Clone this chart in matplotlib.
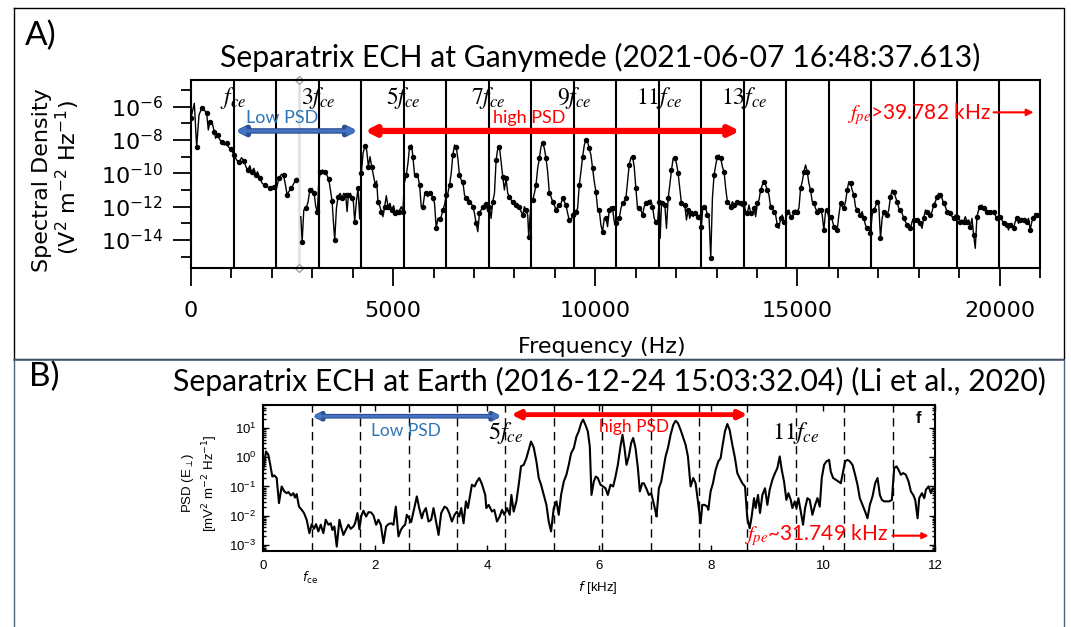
import numpy as np
import matplotlib.pyplot as plt
from matplotlib.lines import Line2D
from matplotlib.ticker import FixedLocator, LogLocator, NullFormatter

# ---- Ganymede spectrum (top panel), Hz and log10 of PSD
gany_freq = [
    0, 82, 140, 198, 263, 329, 387, 428, 469, 527, 576, 609, 658, 716, 774, 823, 881, 922, 979, 1021,
    1070, 1128, 1185, 1251, 1309, 1358, 1399, 1457, 1498, 1555, 1605, 1646, 1704, 1761, 1827, 1885,
    1951, 2008, 2058, 2115, 2173, 2239, 2288, 2337, 2378, 2428, 2485, 2543, 2592, 2634, 2675, 2716,
    2749, 2790, 2848, 2897, 2938, 2996, 3045, 3086, 3127, 3160, 3201, 3251, 3308, 3358, 3407, 3448,
    3490, 3522, 3555, 3597, 3638, 3687, 3736, 3778, 3827, 3860, 3893, 3942, 3983, 4016, 4049, 4090,
    4131, 4173, 4214, 4255, 4304, 4345, 4387, 4428, 4469, 4510, 4559, 4592, 4625, 4675, 4708, 4749,
    4790, 4831, 4872, 4922, 4963, 5012, 5053, 5094, 5144,
    5201, 5242, 5275, 5325, 5366, 5407, 5456, 5489, 5530, 5572,
    5613, 5654, 5695, 5736, 5777, 5818, 5860, 5901, 5942, 5983,
    6024, 6065, 6106, 6148, 6189, 6230, 6271, 6312, 6353, 6395,
    6436, 6477, 6518, 6559, 6600, 6641, 6683, 6724, 6765, 6806,
    6847, 6888, 6929, 6971, 7012, 7053, 7094, 7135, 7176, 7218,
    7259, 7300, 7341, 7382, 7423, 7464, 7506, 7547, 7588, 7629,
    7670, 7711, 7752, 7794, 7835, 7876, 7917, 7958, 7999, 8041,
    8082, 8123, 8164, 8205, 8246, 8287, 8329, 8353, 8411, 8452,
    8493, 8534, 8575, 8617, 8658, 8699, 8740, 8781, 8822, 8864,
    8905, 8946, 8987, 9028, 9069, 9110, 9152, 9193, 9234, 9275,
    9316, 9357, 9398, 9440, 9481, 9522, 9563, 9604, 9645, 9687,
    9728, 9769, 9810, 9851, 9892, 9933, 9975, 10016, 10057, 10098,
    10139, 10180, 10221, 10263, 10304, 10345, 10386, 10427, 10468,
    10510, 10551, 10592, 10634, 10675, 10716, 10757, 10798, 10839, 10881,
    10922, 10963, 11004, 11045, 11086, 11127, 11169, 11210, 11251, 11292,
    11333, 11374, 11415, 11457, 11498, 11539, 11580, 11605, 11638, 11679,
    11720, 11761, 11802, 11843, 11885, 11926, 11967, 12008, 12049, 12090,
    12131, 12173, 12214, 12255, 12296, 12337, 12378, 12420, 12461, 12502,
    12543, 12584, 12625, 12658, 12691, 12732, 12773, 12815, 12856, 12897,
    12938, 12979, 13020, 13061, 13103, 13144, 13185, 13226, 13267, 13308,
    13349, 13391, 13432, 13473, 13514, 13555, 13596, 13638, 13679, 13720,
    13761, 13802, 13843, 13885, 13926, 13967, 14008, 14049, 14090, 14131,
    14173, 14214, 14255, 14296, 14337, 14378, 14419, 14461, 14502, 14543,
    14584, 14625, 14666, 14707, 14749, 14790, 14831, 14872, 14913, 14954,
    14995, 15037, 15078, 15119, 15160, 15201, 15242, 15284, 15325, 15366,
    15407, 15448, 15489, 15530, 15572, 15613, 15654, 15695, 15736,
    15778, 15819, 15860, 15901, 15943, 15984, 16025, 16066, 16107, 16148,
    16190, 16231, 16272, 16313, 16354, 16395, 16436, 16478, 16519, 16560,
    16601, 16642, 16683, 16724, 16766, 16807, 16848, 16889, 16930, 16971,
    17013, 17054, 17095, 17136, 17177, 17218, 17259, 17301, 17342, 17383,
    17424, 17465, 17506, 17547, 17589, 17630, 17671, 17712, 17753, 17794,
    17836, 17877, 17918, 17959, 18000, 18041, 18082, 18124, 18165, 18206,
    18247, 18288, 18329, 18370, 18412, 18453, 18494, 18535, 18576, 18617,
    18659, 18700, 18741, 18782, 18823, 18864, 18905, 18947, 18988, 19029,
    19070, 19111, 19152, 19194, 19235, 19276, 19317, 19358, 19399, 19440,
    19482, 19523, 19564, 19605, 19646, 19687, 19728, 19770, 19811, 19852,
    19893, 19934, 19975, 20016, 20058, 20099, 20140, 20181, 20222, 20263,
    20304, 20346, 20387, 20428, 20469, 20510, 20551, 20592, 20633, 20675,
    20716, 20757, 20798, 20839, 20880, 20921, 20963,
]
gany_log_psd = [
    -6.66, -5.80, -8.40, -6.50, -6.10, -6.20, -6.40, -7.40, -6.90, -7.00, -7.50, -7.90, -7.70, -8.00,
    -8.10, -8.30, -8.20, -8.40, -8.54, -8.70, -8.90, -9.20, -9.34, -9.06, -9.26, -9.60, -9.80, -9.54,
    -9.94, -9.70, -10.10, -9.90, -10.30, -10.60, -10.70, -10.80, -10.90, -10.94, -10.80, -10.90,
    -10.30, -10.06, -10.10, -10.70, -11.30, -11.06, -10.90, -10.60, -10.40, -10.30, np.nan, -12.60,
    -14.10, -12.20, -12.10, -11.70, -11.00, -10.90, -11.20, -12.00, -12.30, -10.50, -9.90, -9.80,
    -9.90, -10.10, -10.34, -11.00, -11.66, -12.90, -14.00, -12.10, -11.40, -11.20, -11.46, -11.20,
    -11.30, -12.30, -11.30, -11.20, -11.46, -11.70, -12.90, -11.70, -10.90, -12.74, -10.00, -8.80,
    -8.36, -8.60, -9.60, -9.00, -9.60, -10.10, -10.70, -10.46, -11.70, -12.00, -12.34, -12.60,
    -12.00, -11.34, -12.00, -11.80, -12.20, -11.94, -12.40, -12.20, -12.30,
    -12.00, -12.30, -10.60, -10.10, -9.40, -8.40, -8.30, -9.00, -10.10, -10.10,
    -10.20, -10.70, -12.00, -12.00, -11.30, -11.20, -11.40, -11.20, -11.26, -11.46,
    -11.80, -13.30, -12.70, -12.74, -12.60, -12.20, -11.90, -11.30, -11.20, -10.70,
    -10.00, -8.90, -8.30, -8.40, -9.10, -10.10, -10.40, -10.50, -11.30, -11.50,
    -11.40, -11.70, -11.80, -12.00, -12.40, -13.00, -13.50, -12.40, -12.20, -12.00,
    -11.90, -11.86, -12.30, -12.00, -12.70, -11.70, -11.20, -9.20, -8.50, -8.40,
    -9.30, -10.20, -11.00, -10.30, -11.20, -11.40, -11.60, -11.70, -11.80, -11.90,
    -12.00, -12.00, -12.30, -12.50, -12.00, -12.20, -12.50, -13.80, -11.70, -11.60,
    -11.20, -10.70, -9.70, -9.10, -8.40, -8.20, -8.50, -9.10, -9.90, -11.20,
    -11.40, -11.70, -11.90, -12.20, -12.00, -11.90, -11.80, -11.50, -11.70, -11.90,
    -12.40, -12.80, -12.90, -12.50, -12.20, -12.30, -12.10, -10.70, -9.90, -9.00,
    -8.30, -8.00, -8.10, -8.50, -8.90, -9.70, -10.50, -11.10, -12.10, -12.20,
    -13.10, -13.50, -12.70, -12.70, -13.20, -12.20, -12.00, -12.10, -12.90,
    -13.00, -12.90, -12.70, -12.10, -11.80, -11.70, -11.50, -10.50, -9.50, -9.06,
    -9.00, -9.60, -10.90, -12.10, -12.10, -12.20, -12.50, -12.00, -11.80, -11.90,
    -11.70, -11.60, -12.00, -12.70, -12.90, -13.00, -11.70, -13.90, -11.80, -11.80,
    -11.90, -13.30, -11.50, -10.70, -9.80, -9.10, -9.06, -9.40, -10.00, -10.90,
    -11.80, -11.80, -11.90, -12.80, -12.20, -12.70, -12.40, -12.60, -12.40, -12.50,
    -12.60, -12.50, -13.20, -12.10, -12.00, -12.10, -12.50, -12.70, -15.10, -11.50,
    -10.10, -9.50, -9.00, -8.90, -9.10, -9.60, -9.90, -10.90, -11.70, -11.80,
    -12.00, -11.70, -11.90, -12.00, -11.70, -11.90, -11.80, -12.00, -11.80, -12.30,
    -12.40, -11.90, -12.40, -12.50, -12.10, -12.60, -11.80, -11.60, -11.00, -10.70,
    -10.50, -10.70, -11.00, -11.30, -12.00, -12.10, -12.30, -12.50, -13.10, -13.30,
    -12.70, -12.50, -12.90, -12.90, -12.30, -12.20, -12.60, -12.70, -12.30, -12.20,
    -12.30, -12.10, -10.90, -10.50, -9.90, -9.50, -9.90, -10.60, -11.00, -11.70,
    -11.80, -12.10, -12.30, -12.10, -12.20, -12.50, -13.40, -12.30, -12.20,
    -12.70, -12.60, -12.80, -13.20, -13.40, -13.40, -12.50, -11.80, -12.00, -12.10,
    -11.70, -11.00, -10.50, -10.60, -11.00, -11.30, -12.00, -12.20, -12.30, -12.50,
    -12.30, -12.70, -13.10, -13.30, -13.20, -13.60, -12.50, -12.20, -12.00, -11.70,
    -11.90, -13.90, -12.70, -12.30, -12.30, -12.50, -12.20, -11.40, -11.00, -11.10,
    -11.40, -11.70, -12.10, -12.20, -12.40, -12.70, -12.90, -13.10, -13.20, -13.30,
    -12.90, -12.80, -12.90, -12.80, -12.90, -13.00, -13.30, -12.70, -12.20, -12.30,
    -12.50, -12.50, -12.30, -11.90, -11.70, -11.40, -11.20, -11.30, -11.50, -11.80,
    -12.00, -12.30, -12.30, -12.40, -12.60, -12.70, -12.50, -12.60, -12.70, -12.90,
    -12.80, -12.90, -12.60, -12.90, -12.80, -13.20, -12.70, -13.70, -14.50, -12.60,
    -12.20, -12.00, -11.90, -12.10, -12.20, -12.30, -12.30, -12.30, -12.40, -12.30,
    -12.50, -12.70, -12.80, -12.60, -12.80, -13.00, -12.90, -13.10, -13.40, -13.10,
    -13.00, -13.30, -12.90, -12.70, -13.00, -12.80, -12.70, -12.80, -12.70, -12.90,
    -12.70, -13.40, -12.90, -12.70, -12.40, -12.50, -12.60,
]

# ---- Earth spectrum (bottom panel, Li et al. 2020), kHz and log10 of PSD
earth_freq = [
    0.000, 0.048, 0.089, 0.119, 0.161, 0.197, 0.239, 0.280, 0.328, 0.376,
    0.417, 0.447, 0.495, 0.537, 0.566, 0.596, 0.638, 0.686, 0.727, 0.775,
    0.823, 0.865, 0.906, 0.942, 0.984, 1.026, 1.073, 1.115, 1.163, 1.205,
    1.234, 1.270, 1.312, 1.360, 1.389, 1.431, 1.473, 1.521, 1.562, 1.610,
    1.640, 1.682, 1.717, 1.747, 1.789, 1.837, 1.878, 1.926, 1.968, 2.016,
    2.057, 2.099, 2.147, 2.194, 2.236, 2.284, 2.326, 2.367, 2.415, 2.457,
    2.499, 2.534, 2.564, 2.606, 2.642, 2.683, 2.743, 2.785, 2.832, 2.862,
    2.904, 2.952, 2.999, 3.041, 3.131, 3.178, 3.238, 3.280, 3.321, 3.369,
    3.417, 3.459, 3.500, 3.536, 3.578, 3.620, 3.655, 3.727, 3.775, 3.816,
    3.858, 3.906, 3.965,
    3.984, 4.026, 4.086, 4.127, 4.175, 4.223, 4.265, 4.306, 4.354, 4.402,
    4.432, 4.473, 4.521, 4.563, 4.604, 4.652, 4.700, 4.742, 4.783, 4.831,
    4.879, 4.921, 4.962, 5.010, 5.058, 5.099, 5.141, 5.189, 5.237, 5.278,
    5.320, 5.368, 5.415, 5.457, 5.499, 5.547, 5.594, 5.636, 5.678, 5.714,
    5.755, 5.797, 5.833, 5.863, 5.904, 5.940, 5.976, 6.024, 6.071, 6.113,
    6.155, 6.203, 6.250, 6.292, 6.334, 6.381, 6.417, 6.453, 6.489, 6.530,
    6.572, 6.608, 6.650, 6.692, 6.727, 6.769, 6.799, 6.841, 6.888, 6.930,
    6.966, 7.008, 7.025, 7.067, 7.109, 7.145, 7.187, 7.228, 7.276, 7.324,
    7.365, 7.407, 7.455, 7.503, 7.544, 7.586, 7.634, 7.681, 7.723, 7.765,
    7.813, 7.842, 7.884, 7.932,
    7.950, 7.991, 8.033, 8.081, 8.129, 8.170, 8.212, 8.248, 8.290, 8.331,
    8.379, 8.427, 8.468, 8.510, 8.558, 8.606, 8.647, 8.689, 8.725, 8.767,
    8.796, 8.838, 8.874, 8.916, 8.963, 9.005, 9.047, 9.095, 9.142, 9.184,
    9.226, 9.262, 9.303, 9.345, 9.381, 9.423, 9.452, 9.494, 9.524, 9.560,
    9.601, 9.643, 9.679, 9.721, 9.762, 9.810, 9.858, 9.900, 9.941, 9.977,
    10.019, 10.061, 10.108, 10.138, 10.180, 10.228, 10.275, 10.317, 10.359, 10.395,
    10.436, 10.478, 10.526, 10.573, 10.615, 10.657, 10.705, 10.752, 10.794, 10.836,
    10.884, 10.931, 10.973, 11.015, 11.051, 11.092, 11.134, 11.182, 11.229, 11.271,
    11.313, 11.349, 11.390, 11.432, 11.480, 11.528, 11.569, 11.611, 11.647, 11.689,
    11.718, 11.766, 11.808, 11.838, 11.885, 11.927, 11.957, 12.005,
]
earth_log_psd = [
    -0.43, 0.20, 0.09, -0.20, -0.66, -0.62, -0.71, -1.57, -1.00, -1.17,
    -1.23, -1.19, -1.31, -1.23, -1.38, -1.26, -1.69, -1.80, -1.91, -2.14,
    -2.60, -2.29, -2.45, -2.29, -2.54, -2.31, -2.60, -2.14, -2.31, -2.26,
    -2.49, -2.37, -3.06, -2.14, -2.37, -2.66, -2.49, -2.31, -2.45, -2.37,
    -2.26, -1.91, -2.46, -2.03, -1.83, -2.03, -1.88, -1.89, -1.99, -2.31,
    -2.14, -2.31, -2.94, -2.37, -2.29, -2.26, -2.31, -1.69, -2.71, -2.49,
    -2.37, -2.31, -1.97, -2.09, -2.22, -1.86, -1.34, -1.74, -2.09, -1.88,
    -1.74, -2.20, -2.14, -1.74, -2.66, -1.91, -1.69, -1.74, -1.91, -2.20,
    -1.97, -1.86, -2.03, -1.74, -2.26, -1.51, -1.74, -0.94, -1.00, -0.83,
    -0.71, -0.92, -1.29,
    -1.74, -1.63, -1.86, -1.80, -2.20, -2.03, -1.80, -1.97, -1.74, -1.97,
    -1.29, -1.86, -1.51, -0.94, -0.31, -0.26, -0.03, 0.26, 0.54, 0.34,
    -0.14, -0.71, -0.94, -1.29, -1.63, -2.20, -2.54, -1.74, -1.51, -1.97,
    -1.29, -0.83, -0.60, -0.26, 0.14, 0.31, 0.71, 0.89, 1.17, 1.29,
    1.11, 0.89, 0.37, -1.29, -0.83, -0.66, -0.71, -0.94, -1.00, -1.06,
    -1.29, -0.94, -1.00, -0.66, -0.26, 0.37, 0.77, 0.31, -0.26, 0.03,
    0.49, 0.66, 0.31, -0.37, -1.17, -0.89, -0.89, -1.06, -1.29, -1.23,
    -1.51, -1.86, -2.03, -1.06, -0.83, -0.43, 0.03, 0.31, 0.77, 1.11,
    1.25, 1.17, 0.94, 0.66, 0.43, 0.03, -1.00, -0.71, -0.89, -1.51,
    -2.26, -1.63, -1.63, -1.69,
    -1.80, -1.17, -0.89, -0.43, -0.14, -0.03, 0.49, 0.89, 1.14, 0.94,
    0.43, -0.03, -0.54, -0.71, -0.89, -1.00, -2.09, -2.43, -2.03, -1.40,
    -1.74, -1.29, -1.91, -1.29, -1.06, -1.63, -1.11, -0.77, -0.54, -0.37,
    0.03, -0.43, -0.83, -1.46, -1.23, -1.46, -1.74, -1.51, -1.74, -1.40,
    -1.86, -2.31, -1.74, -1.40, -1.46, -1.97, -1.63, -1.40, -1.69, -0.71,
    -0.26, -0.14, -0.09, -0.49, -0.71, -0.77, -0.83, -0.89, -0.49, -0.14,
    -0.09, -0.14, -0.26, -0.60, -0.94, -1.40, -1.63, -1.86, -2.09, -1.63,
    -1.34, -0.89, -0.71, -1.29, -1.46, -1.51, -1.51, -1.51, -1.46, -0.37,
    -0.31, -0.43, -0.60, -0.54, -0.60, -0.83, -1.17, -1.29, -1.46, -2.09,
    -1.40, -1.23, -1.40, -1.11, -1.00, -1.23, -1.06, -1.11,
]

fce_ganymede = 1052      # Hz
fce_earth = 0.865        # kHz
gany_harmonics = list(range(1, 20))
gany_labelled = [1, 3, 5, 7, 9, 11, 13]
earth_harmonics = list(range(1, 14))
earth_labelled = [5, 11]
cursor_freq = 2675       # Hz, grey cursor line

CAL = ['Lato', 'DejaVu Sans']
W, H = 1071, 627


def fx(x):
    return x / W


def fy(y):
    return 1 - y / H


fig = plt.figure(figsize=(W / 100, H / 100), dpi=100)

# frames around the two panels
fig.add_artist(Line2D([fx(14), fx(1064), fx(1064), fx(14), fx(14)],
                      [fy(8), fy(8), fy(359), fy(359), fy(8)], color='black', lw=1))
fig.add_artist(Line2D([fx(14), fx(14)], [fy(360), fy(627)], color='#4d6380', lw=1))
fig.add_artist(Line2D([fx(1064), fx(1064)], [fy(360), fy(627)], color='#4d6380', lw=1))
fig.add_artist(Line2D([fx(14), fx(1064)], [fy(360), fy(360)], color='#4d6380', lw=1.2))

# ================= panel A =================
ax1 = fig.add_axes([fx(191), fy(268), (1040 - 191) / W, (268 - 80) / H])
psd_a = 10.0 ** np.array(gany_log_psd)
ax1.plot(gany_freq, psd_a, color='black', lw=1.0, marker='o', ms=2.9, markevery=2)
ax1.set_yscale('log')
ax1.set_xlim(0, 21000)
ax1.set_ylim(10 ** -15.68, 10 ** -4.4)

for n in gany_harmonics:
    ax1.axvline(n * fce_ganymede, color='black', lw=1.5, zorder=1)
ax1.plot([cursor_freq, cursor_freq], [10 ** -15.68, 10 ** -4.4], color='#e0e0e0', lw=1.8,
         marker='D', ms=4.5, mfc='white', mec='#a0a0a0', clip_on=False, zorder=0.5)

ax1.set_xticks([0, 5000, 10000, 15000, 20000])
ax1.xaxis.set_minor_locator(FixedLocator(np.arange(1000, 21001, 1000)))
ytick_exps = [-6, -8, -10, -12, -14]
ax1.set_yticks([10.0 ** e for e in ytick_exps], labels=[r'$10^{%d}$' % e for e in ytick_exps])
ax1.yaxis.set_minor_locator(FixedLocator([10.0 ** e for e in [-5, -7, -9, -11, -13, -15]]))
ax1.yaxis.set_minor_formatter(NullFormatter())
ax1.tick_params(which='major', direction='out', length=13, width=1.3, labelsize=16)
ax1.tick_params(which='minor', direction='out', length=7, width=1.3)
ax1.tick_params(axis='x', which='major', pad=11)
ax1.tick_params(axis='y', which='major', pad=7)
for sp in ax1.spines.values():
    sp.set_linewidth(1.5)

xa = ax1.get_xaxis_transform()
for n in gany_labelled:
    lab = r'$f_{ce}$' if n == 1 else r'$%d f_{ce}$' % n
    ax1.text(n * fce_ganymede, 0.905, lab, transform=xa, ha='center', va='center',
             fontsize=17, math_fontfamily='stix')

# Low PSD (blue) and high PSD (red) arrows
ax1.annotate('', xy=(4131, 0.729), xytext=(1086, 0.729), xycoords=xa, textcoords=xa,
             arrowprops=dict(arrowstyle='<|-|>', color='#2f528f', lw=4, mutation_scale=13,
                             shrinkA=0, shrinkB=0))
ax1.annotate('', xy=(4100, 0.729), xytext=(1117, 0.729), xycoords=xa, textcoords=xa,
             arrowprops=dict(arrowstyle='<|-|>', color='#4472c4', lw=2.2, mutation_scale=10,
                             shrinkA=0, shrinkB=0))
ax1.text(2260, 0.80, 'Low PSD', transform=xa, ha='center', va='center', color='#2e75b6',
         fontsize=13, family=CAL)
ax1.annotate('', xy=(13580, 0.729), xytext=(4296, 0.729), xycoords=xa, textcoords=xa,
             arrowprops=dict(arrowstyle='<|-|>', color='#ff0000', lw=4.5, mutation_scale=14,
                             shrinkA=0, shrinkB=0))
ax1.text(8370, 0.80, 'high PSD', transform=xa, ha='center', va='center', color='#ff0000',
         fontsize=13, family=CAL)

ax1.text(19780, 0.82, r'$f_{pe}$>39.782 kHz', transform=xa, ha='right', va='center',
         color='#ff0000', fontsize=15, family=CAL, math_fontfamily='stix')
ax1.annotate('', xy=(20840, 0.828), xytext=(19852, 0.828), xycoords=xa, textcoords=xa,
             arrowprops=dict(arrowstyle='-|>', color='#ff0000', lw=1.5, mutation_scale=10,
                             shrinkA=0, shrinkB=0))

fig.text(fx(25), fy(36), 'A)', fontsize=24, family=CAL, va='center', ha='left')
fig.text(fx(600), fy(57), 'Separatrix ECH at Ganymede (2021-06-07 16:48:37.613)',
         fontsize=21.7, family=CAL, ha='center', va='center')
fig.text(fx(42), fy(180), 'Spectral Density', rotation=90, fontsize=16,
         ha='center', va='center')
fig.text(fx(68), fy(177), r'(V$^{2}$ m$^{-2}$ Hz$^{-1}$)', rotation=90, fontsize=16,
         ha='center', va='center')
fig.text(fx(602), fy(347), 'Frequency (Hz)', fontsize=16, ha='center', va='center')

# ================= panel B =================
ax2 = fig.add_axes([fx(263.3), fy(551.3), (935 - 263.3) / W, (551.3 - 405.3) / H])
psd_b = 10.0 ** np.array(earth_log_psd)
ax2.plot(earth_freq, psd_b, color='black', lw=1.5)
ax2.set_yscale('log')
ax2.set_xlim(0, 12)
ax2.set_ylim(10 ** -3.22, 10 ** 1.78)
for n in earth_harmonics:
    ax2.axvline(n * fce_earth, color='black', lw=1, ls=(0, (6, 4)), zorder=1)

ax2.set_xticks(range(0, 13, 2))
ax2.yaxis.set_major_locator(LogLocator(base=10, numticks=10))
ax2.yaxis.set_minor_locator(LogLocator(base=10, subs=np.arange(2, 10), numticks=10))
ax2.yaxis.set_minor_formatter(NullFormatter())
ax2.tick_params(which='both', direction='in', top=True, right=True, width=1,
                labelsize=9.5, labelfontfamily='Liberation Sans')
ax2.tick_params(which='major', length=4.5)
ax2.tick_params(which='minor', length=2.5)
ax2.tick_params(axis='x', pad=6)
ax2.tick_params(axis='y', pad=5)
for sp in ax2.spines.values():
    sp.set_linewidth(1.5)

xb = ax2.get_xaxis_transform()
for n in earth_labelled:
    ax2.text(n * fce_earth, 0.81, r'$%d f_{ce}$' % n, transform=xb, ha='center', va='center',
             fontsize=17.5, math_fontfamily='stix')
ax2.text(fce_earth * 0.96, -0.18, r'$f_{\rm ce}$', transform=xb, ha='center', va='center',
         fontsize=9, family='Liberation Sans', math_fontfamily='dejavusans')

ax2.annotate('', xy=(4.265, 0.925), xytext=(0.866, 0.925), xycoords=xb, textcoords=xb,
             arrowprops=dict(arrowstyle='<|-|>', color='#2f528f', lw=3.4, mutation_scale=11,
                             shrinkA=0, shrinkB=0))
ax2.annotate('', xy=(4.24, 0.925), xytext=(0.89, 0.925), xycoords=xb, textcoords=xb,
             arrowprops=dict(arrowstyle='<|-|>', color='#4472c4', lw=1.8, mutation_scale=8,
                             shrinkA=0, shrinkB=0))
ax2.text(2.54, 0.826, 'Low PSD', transform=xb, ha='center', va='center', color='#2e75b6',
         fontsize=12.5, family=CAL)
ax2.annotate('', xy=(8.65, 0.936), xytext=(4.43, 0.936), xycoords=xb, textcoords=xb,
             arrowprops=dict(arrowstyle='<|-|>', color='#ff0000', lw=3.5, mutation_scale=12,
                             shrinkA=0, shrinkB=0))
ax2.text(6.62, 0.849, 'high PSD', transform=xb, ha='center', va='center', color='#ff0000',
         fontsize=12.5, family=CAL)
ax2.text(11.16, 0.114, r'$f_{pe}$~31.749 kHz', transform=xb, ha='right', va='center',
         color='#ff0000', fontsize=15, family=CAL, math_fontfamily='stix')
ax2.annotate('', xy=(11.885, 0.107), xytext=(11.24, 0.107), xycoords=xb, textcoords=xb,
             arrowprops=dict(arrowstyle='-|>', color='#ff0000', lw=1.5, mutation_scale=9,
                             shrinkA=0, shrinkB=0))
ax2.text(11.71, 0.913, 'f', transform=xb, ha='center', va='center', fontsize=12,
         fontweight='bold', family='Liberation Sans')

fig.text(fx(29), fy(377), 'B)', fontsize=24, family=CAL, va='center', ha='left')
fig.text(fx(609), fy(381), 'Separatrix ECH at Earth (2016-12-24 15:03:32.04) (Li et al., 2020)',
         fontsize=21.7, family=CAL, ha='center', va='center')
fig.text(fx(188), fy(483), r'PSD (E$_{\perp}$)', rotation=90, fontsize=9.5,
         family='Liberation Sans', ha='center', va='center')
fig.text(fx(210), fy(483), r'[mV$^{2}$ m$^{-2}$ Hz$^{-1}$]', rotation=90, fontsize=9.5,
         family='Liberation Sans', ha='center', va='center')
fig.text(fx(598), fy(588), r'$f$ [kHz]', fontsize=9.5, family='Liberation Sans',
         ha='center', va='center', math_fontfamily='dejavusans')

fig.savefig('out.png', dpi=100)
